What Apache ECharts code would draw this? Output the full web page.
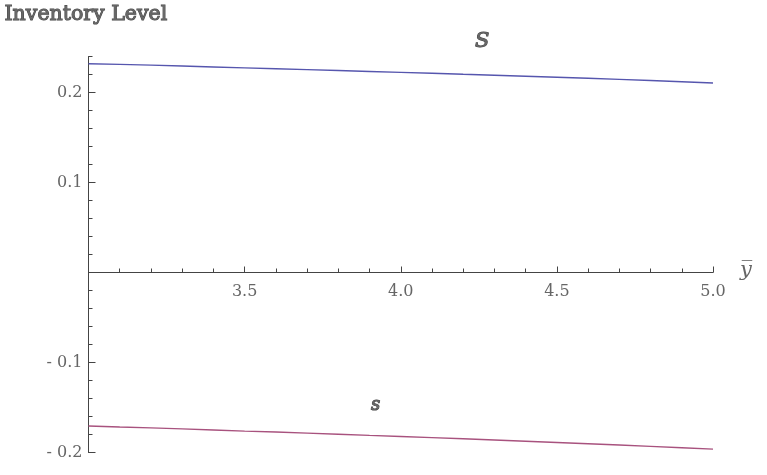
<!DOCTYPE html>
<html>
<head>
<meta charset="utf-8">
<script src="https://cdn.jsdelivr.net/npm/echarts@6/dist/echarts.min.js"></script>
<style>html,body{margin:0;padding:0;background:#fff}#c{width:767px;height:475px}</style>
</head>
<body>
<div id="c"></div>
<script>
// Data
var xValues = [3.0,3.1,3.2,3.3,3.4,3.5,3.6,3.7,3.8,3.9,4.0,4.1,4.2,4.3,4.4,4.5,4.6,4.7,4.8,4.9,5.0];
var upperS = [0.2320,0.2312,0.2304,0.2294,0.2284,0.2274,0.2264,0.2254,0.2244,0.2234,0.2224,0.2214,0.2202,0.2192,0.2181,0.2170,0.2158,0.2146,0.2134,0.2120,0.2106];
var lowerS = [-0.1705,-0.1716,-0.1726,-0.1738,-0.1750,-0.1762,-0.1773,-0.1785,-0.1797,-0.1810,-0.1822,-0.1835,-0.1848,-0.1861,-0.1875,-0.1889,-0.1903,-0.1917,-0.1932,-0.1947,-0.1962];
var xTickLabels = [3.5, 4.0, 4.5, 5.0];
var yTickLabels = [-0.2, -0.1, 0.1, 0.2];
var yMinorTicks = [-0.2,-0.18,-0.16,-0.14,-0.12,-0.1,-0.08,-0.06,-0.04,-0.02,0,0.02,0.04,0.06,0.08,0.1,0.12,0.14,0.16,0.18,0.2,0.22,0.24];
var yMin = -0.2, yMax = 0.24;

var FONT = '"DejaVu Serif", "Liberation Serif", serif';
var AX = '#444';
var TXT = '#666';

function pairs(xs, ys){ return xs.map(function(x,i){ return [x, ys[i]]; }); }

var gridTop = 56.5, gridBottom = 22.5, H = 475;
var plotH = H - gridTop - gridBottom;
// move the x axis up from the bottom edge to y = 0
var xOffset = -((0 - yMin) / (yMax - yMin)) * plotH;

var chart = echarts.init(document.getElementById('c'), null, {renderer:'canvas'});
var option = {
  animation: false,
  backgroundColor: '#fff',
  grid: {left: 88.5, right: 54, top: gridTop, bottom: gridBottom, containLabel: false},
  xAxis: {
    type: 'value', min: 3.0, max: 5.0, interval: 0.5, position: 'bottom', offset: xOffset,
    axisLine: {show: true, onZero: false, lineStyle: {color: AX, width: 1}},
    axisTick: {show: true, inside: true, length: 6, lineStyle: {color: AX}},
    minorTick: {show: true, splitNumber: 5, length: 4, lineStyle: {color: AX}},
    splitLine: {show: false},
    axisLabel: {
      color: TXT, fontFamily: FONT, fontSize: 16, margin: 11,
      formatter: function(v){
        for (var i=0;i<xTickLabels.length;i++){ if (Math.abs(v-xTickLabels[i])<1e-6) return xTickLabels[i].toFixed(1); }
        return '';
      }
    }
  },
  yAxis: [{
    type: 'value', min: yMin, max: yMax,
    axisLine: {show: true, onZero: false, lineStyle: {color: AX, width: 1}},
    axisTick: {show: true, inside: true, length: 4, customValues: yMinorTicks, lineStyle: {color: AX}},
    splitLine: {show: false},
    axisLabel: {show: false}
  },{
    type: 'value', min: yMin, max: yMax, position: 'left',
    axisLine: {show: false, onZero: false},
    axisTick: {show: true, inside: true, length: 7, customValues: yTickLabels, lineStyle: {color: AX}},
    splitLine: {show: false},
    axisLabel: {
      show: true, customValues: yTickLabels, color: TXT, fontFamily: FONT, fontSize: 16, margin: 6,
      formatter: function(v){ return v < 0 ? '- ' + Math.abs(v).toFixed(1) : v.toFixed(1); }
    }
  }],
  series: [{
    type: 'line', name: 'S', data: pairs(xValues, upperS), showSymbol: false,
    lineStyle: {color: '#5656ae', width: 1.4}, yAxisIndex: 0
  },{
    type: 'line', name: 's', data: pairs(xValues, lowerS), showSymbol: false,
    lineStyle: {color: '#a8527e', width: 1.4}, yAxisIndex: 0
  }],
  graphic: [
    {type: 'text', left: 4, top: 4, style: {text: 'Inventory Level', font: '20.5px ' + FONT, fill: TXT}},
    {type: 'text', x: 475, y: 31, style: {text: 'S', font: 'italic 21px ' + FONT, fill: TXT}},
    {type: 'text', x: 371, y: 396, style: {text: 's', font: 'italic 18px ' + FONT, fill: TXT}},
    {type: 'text', x: 740, y: 260, style: {text: 'y\u0305', font: 'italic 21px ' + FONT, fill: TXT}}
  ]
};
chart.setOption(option);
// axis line extensions past the plot (as in the original)
var p0 = chart.convertToPixel({xAxisIndex:0, yAxisIndex:0}, [3.0, 0]);
var p1 = chart.convertToPixel({xAxisIndex:0, yAxisIndex:0}, [5.0, yMin]);
chart.setOption({graphic: [
  {type: 'line', shape: {x1: p0[0]-13, y1: p0[1], x2: p0[0], y2: p0[1]}, style: {stroke: AX, lineWidth: 1}},
  {type: 'line', shape: {x1: p1[0], y1: p0[1], x2: p1[0]+9, y2: p0[1]}, style: {stroke: AX, lineWidth: 1}},
  {type: 'line', shape: {x1: p0[0], y1: p1[1], x2: p0[0], y2: p1[1]+8}, style: {stroke: AX, lineWidth: 1}}
]});
</script>
</body>
</html>
